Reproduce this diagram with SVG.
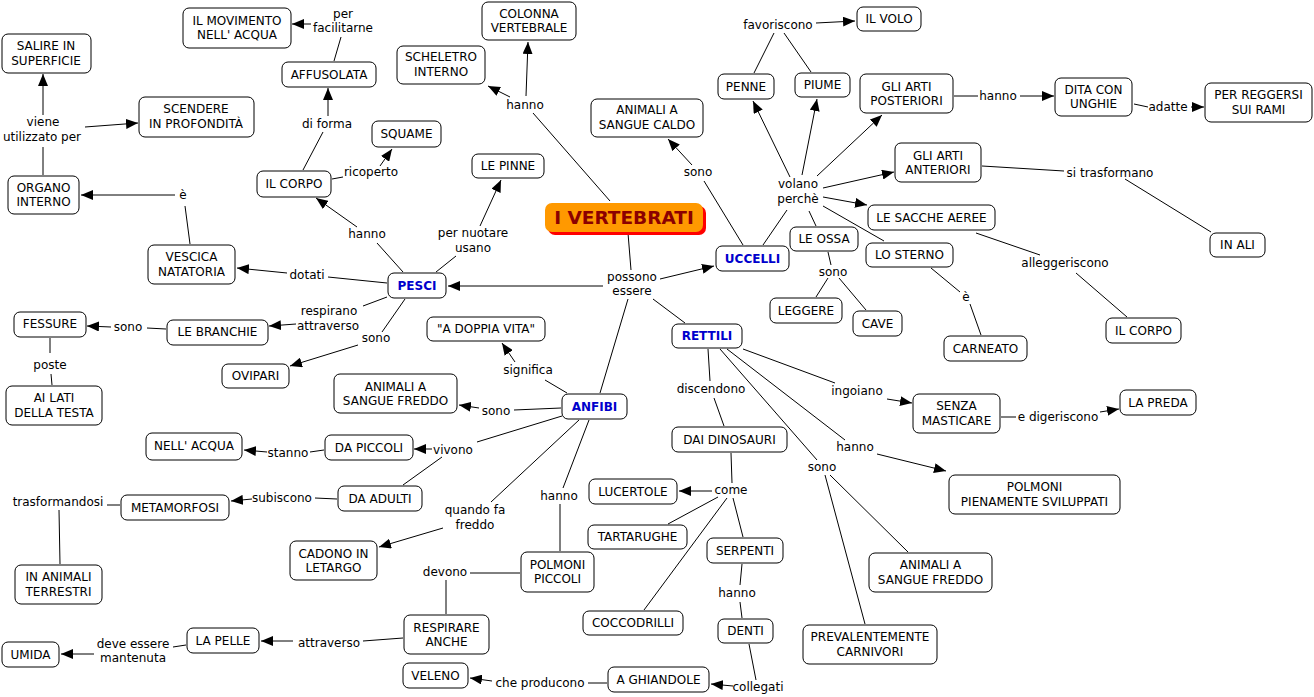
<svg xmlns="http://www.w3.org/2000/svg" width="1314" height="697" viewBox="0 0 1314 697">
<defs>
<marker id="ah" viewBox="0 0 12 10" refX="12" refY="5" markerWidth="12" markerHeight="10" markerUnits="userSpaceOnUse" orient="auto">
<path d="M0,0 L12,5 L0,10 z" fill="#000"/>
</marker>
<style>
text{font-family:"DejaVu Sans",Verdana,sans-serif;font-size:12px;text-anchor:middle;fill:#000}
.n rect{fill:#fff;stroke:#000;stroke-width:1}
.b text{font-weight:bold;fill:#0000cc}
#conn line{stroke:#000;stroke-width:1}
#conn line.a{marker-end:url(#ah)}
</style>
</defs>
<rect width="1314" height="697" fill="#fff"/>
<g id="conn">
<line class="a" x1="311" y1="24" x2="292" y2="24"/>
<line x1="334" y1="61" x2="341" y2="37"/>
<line class="a" x1="328" y1="116" x2="328" y2="88"/>
<line x1="303" y1="170" x2="323" y2="132"/>
<line x1="332" y1="179" x2="343" y2="177"/>
<line class="a" x1="380" y1="166" x2="392" y2="149"/>
<line x1="403" y1="272" x2="377" y2="243"/>
<line class="a" x1="357" y1="227" x2="316" y2="198"/>
<line x1="436" y1="272" x2="456" y2="256"/>
<line class="a" x1="480" y1="226" x2="501" y2="180"/>
<line x1="610" y1="201" x2="533" y2="113"/>
<line class="a" x1="510" y1="97" x2="488" y2="86"/>
<line class="a" x1="526" y1="96" x2="528" y2="42"/>
<line x1="628" y1="233" x2="631" y2="270"/>
<line class="a" x1="603" y1="286" x2="448" y2="286"/>
<line class="a" x1="660" y1="279" x2="714" y2="266"/>
<line x1="653" y1="299" x2="685" y2="323"/>
<line x1="628" y1="299" x2="600" y2="393"/>
<line x1="743" y1="245" x2="704" y2="181"/>
<line class="a" x1="692" y1="165" x2="668" y2="139"/>
<line x1="387" y1="283" x2="328" y2="277"/>
<line class="a" x1="287" y1="273" x2="237" y2="268"/>
<line x1="190" y1="244" x2="185" y2="206"/>
<line class="a" x1="175" y1="195" x2="81" y2="195"/>
<line x1="43" y1="175" x2="43" y2="147"/>
<line class="a" x1="43" y1="115" x2="43" y2="74"/>
<line class="a" x1="85" y1="127" x2="138" y2="123"/>
<line x1="387" y1="297" x2="363" y2="306"/>
<line class="a" x1="296" y1="324" x2="269" y2="326"/>
<line x1="166" y1="329" x2="147" y2="328"/>
<line class="a" x1="111" y1="327" x2="87" y2="326"/>
<line x1="50" y1="338" x2="50" y2="353"/>
<line x1="51" y1="374" x2="52" y2="385"/>
<line x1="405" y1="299" x2="382" y2="332"/>
<line class="a" x1="358" y1="345" x2="290" y2="366"/>
<line x1="567" y1="393" x2="545" y2="380"/>
<line class="a" x1="515" y1="362" x2="502" y2="343"/>
<line x1="561" y1="408" x2="514" y2="410"/>
<line class="a" x1="479" y1="408" x2="459" y2="405"/>
<line x1="562" y1="416" x2="477" y2="442"/>
<line class="a" x1="432" y1="449" x2="414" y2="449"/>
<line x1="442" y1="457" x2="403" y2="485"/>
<line x1="324" y1="450" x2="310" y2="452"/>
<line class="a" x1="267" y1="452" x2="244" y2="450"/>
<line x1="337" y1="499" x2="315" y2="498"/>
<line class="a" x1="252" y1="499" x2="231" y2="501"/>
<line x1="120" y1="505" x2="107" y2="505"/>
<line x1="59" y1="510" x2="60" y2="564"/>
<line x1="579" y1="420" x2="491" y2="502"/>
<line class="a" x1="443" y1="528" x2="379" y2="547"/>
<line x1="589" y1="420" x2="563" y2="488"/>
<line x1="560" y1="504" x2="560" y2="551"/>
<line x1="520" y1="573" x2="470" y2="573"/>
<line x1="446" y1="580" x2="446" y2="614"/>
<line x1="403" y1="638" x2="363" y2="641"/>
<line class="a" x1="293" y1="641" x2="261" y2="641"/>
<line x1="186" y1="645" x2="173" y2="647"/>
<line class="a" x1="94" y1="654" x2="61" y2="654"/>
<line x1="607" y1="683" x2="588" y2="683"/>
<line class="a" x1="492" y1="681" x2="470" y2="678"/>
<line x1="708" y1="349" x2="710" y2="381"/>
<line x1="714" y1="398" x2="724" y2="426"/>
<line x1="731" y1="453" x2="732" y2="483"/>
<line class="a" x1="712" y1="491" x2="679" y2="491"/>
<line x1="718" y1="497" x2="668" y2="524"/>
<line x1="727" y1="498" x2="644" y2="610"/>
<line x1="733" y1="498" x2="743" y2="537"/>
<line x1="742" y1="564" x2="740" y2="585"/>
<line x1="740" y1="602" x2="742" y2="618"/>
<line x1="749" y1="644" x2="756" y2="680"/>
<line class="a" x1="733" y1="686" x2="711" y2="684"/>
<line x1="743" y1="349" x2="835" y2="383"/>
<line class="a" x1="887" y1="399" x2="912" y2="403"/>
<line x1="1001" y1="417" x2="1016" y2="417"/>
<line class="a" x1="1100" y1="412" x2="1119" y2="409"/>
<line x1="727" y1="349" x2="845" y2="440"/>
<line class="a" x1="877" y1="454" x2="946" y2="471"/>
<line x1="720" y1="349" x2="817" y2="460"/>
<line x1="825" y1="475" x2="865" y2="624"/>
<line x1="830" y1="475" x2="908" y2="552"/>
<line x1="763" y1="245" x2="787" y2="210"/>
<line class="a" x1="790" y1="177" x2="753" y2="101"/>
<line class="a" x1="802" y1="175" x2="817" y2="99"/>
<line class="a" x1="817" y1="176" x2="882" y2="115"/>
<line class="a" x1="823" y1="188" x2="894" y2="172"/>
<line class="a" x1="823" y1="197" x2="867" y2="205"/>
<line x1="823" y1="206" x2="884" y2="241"/>
<line x1="809" y1="211" x2="816" y2="226"/>
<line x1="754" y1="73" x2="774" y2="33"/>
<line x1="811" y1="72" x2="784" y2="33"/>
<line class="a" x1="816" y1="23" x2="855" y2="21"/>
<line x1="954" y1="96" x2="978" y2="96"/>
<line class="a" x1="1020" y1="96" x2="1054" y2="96"/>
<line x1="1134" y1="104" x2="1148" y2="107"/>
<line class="a" x1="1191" y1="107" x2="1204" y2="107"/>
<line x1="982" y1="166" x2="1064" y2="171"/>
<line x1="1125" y1="179" x2="1211" y2="232"/>
<line x1="976" y1="233" x2="1040" y2="255"/>
<line x1="1076" y1="273" x2="1127" y2="317"/>
<line x1="931" y1="268" x2="960" y2="292"/>
<line x1="970" y1="304" x2="981" y2="335"/>
<line x1="828" y1="252" x2="831" y2="265"/>
<line x1="828" y1="278" x2="816" y2="297"/>
<line x1="839" y1="278" x2="866" y2="310"/>
</g>
<g id="labels">
<text x="343" y="18">per</text><text x="343" y="32">facilitarne</text>
<text x="327" y="128">di forma</text>
<text x="43" y="126">viene</text><text x="42" y="141">utilizzato per</text>
<text x="183" y="199">è</text>
<text x="371" y="176">ricoperto</text>
<text x="525" y="109">hanno</text>
<text x="367" y="238">hanno</text>
<text x="473" y="237">per nuotare</text><text x="473" y="252">usano</text>
<text x="698" y="176">sono</text>
<text x="307" y="279">dotati</text>
<text x="329" y="315">respirano</text><text x="328" y="330">attraverso</text>
<text x="128" y="331">sono</text>
<text x="50" y="369">poste</text>
<text x="376" y="342">sono</text>
<text x="632" y="281">possono</text><text x="632" y="295">essere</text>
<text x="528" y="374">significa</text>
<text x="496" y="415">sono</text>
<text x="453" y="454">vivono</text>
<text x="288" y="457">stanno</text>
<text x="282" y="502">subiscono</text>
<text x="58" y="506">trasformandosi</text>
<text x="475" y="514">quando fa</text><text x="475" y="529">freddo</text>
<text x="559" y="500">hanno</text>
<text x="445" y="576">devono</text>
<text x="329" y="647">attraverso</text>
<text x="133" y="648">deve essere</text><text x="133" y="662">mantenuta</text>
<text x="540" y="687">che producono</text>
<text x="711" y="393">discendono</text>
<text x="731" y="494">come</text>
<text x="737" y="597">hanno</text>
<text x="758" y="691">collegati</text>
<text x="857" y="395">ingoiano</text>
<text x="855" y="451">hanno</text>
<text x="822" y="471">sono</text>
<text x="1058" y="421">e digeriscono</text>
<text x="778" y="29">favoriscono</text>
<text x="798" y="188">volano</text><text x="798" y="203">perchè</text>
<text x="998" y="100">hanno</text>
<text x="1168" y="111">adatte</text>
<text x="1110" y="177">si trasformano</text>
<text x="833" y="276">sono</text>
<text x="966" y="301">è</text>
<text x="1065" y="267">alleggeriscono</text>
</g>
<g id="n-vertebrati">
<rect x="548" y="206" width="158" height="29" rx="7" fill="#ff0000"/>
<rect x="545" y="203" width="158" height="29" rx="7" fill="#ff9900"/>
<text x="624" y="224" style="font-size:18.5px;font-weight:bold;fill:#8b0000">I VERTEBRATI</text>
</g>
<g id="n-movimento" class="n"><rect x="183" y="8" width="108" height="40" rx="6"/><text x="237" y="25">IL MOVIMENTO</text><text x="237" y="39">NELL' ACQUA</text></g>
<g id="n-salire" class="n"><rect x="2" y="34" width="89" height="39" rx="6"/><text x="46" y="50">SALIRE IN</text><text x="46" y="65">SUPERFICIE</text></g>
<g id="n-scendere" class="n"><rect x="139" y="97" width="115" height="40" rx="6"/><text x="196" y="113">SCENDERE</text><text x="196" y="128">IN PROFONDITÀ</text></g>
<g id="n-organo" class="n"><rect x="8" y="176" width="71" height="38" rx="6"/><text x="43.5" y="192">ORGANO</text><text x="43.5" y="206">INTERNO</text></g>
<g id="n-affusolata" class="n"><rect x="282" y="62" width="94" height="25" rx="6"/><text x="329" y="79">AFFUSOLATA</text></g>
<g id="n-corpo-p" class="n"><rect x="257" y="171" width="74" height="26" rx="6"/><text x="294" y="188">IL CORPO</text></g>
<g id="n-squame" class="n"><rect x="372" y="121" width="69" height="26" rx="6"/><text x="406.5" y="138">SQUAME</text></g>
<g id="n-scheletro" class="n"><rect x="397" y="46" width="88" height="38" rx="6"/><text x="441" y="61">SCHELETRO</text><text x="441" y="76">INTERNO</text></g>
<g id="n-colonna" class="n"><rect x="482" y="2" width="94" height="38" rx="6"/><text x="529" y="18">COLONNA</text><text x="529" y="32">VERTEBRALE</text></g>
<g id="n-pinne" class="n"><rect x="472" y="154" width="72" height="24" rx="6"/><text x="508" y="170">LE PINNE</text></g>
<g id="n-caldo" class="n"><rect x="591" y="99" width="112" height="38" rx="6"/><text x="647" y="114">ANIMALI A</text><text x="647" y="129">SANGUE CALDO</text></g>
<g id="n-vescica" class="n"><rect x="148" y="245" width="87" height="39" rx="6"/><text x="191.5" y="261">VESCICA</text><text x="191.5" y="276">NATATORIA</text></g>
<g id="n-pesci" class="n b"><rect x="388" y="273" width="58" height="25" rx="6"/><text x="417" y="290">PESCI</text></g>
<g id="n-fessure" class="n"><rect x="14" y="312" width="72" height="25" rx="6"/><text x="50" y="328">FESSURE</text></g>
<g id="n-branchie" class="n"><rect x="167" y="320" width="101" height="25" rx="6"/><text x="217.5" y="336">LE BRANCHIE</text></g>
<g id="n-ovipari" class="n"><rect x="222" y="364" width="67" height="24" rx="6"/><text x="255.5" y="380">OVIPARI</text></g>
<g id="n-lati" class="n"><rect x="6" y="386" width="96" height="39" rx="6"/><text x="54" y="402">AI LATI</text><text x="54" y="417">DELLA TESTA</text></g>
<g id="n-doppia" class="n"><rect x="427" y="317" width="118" height="24" rx="6"/><text x="486" y="333">"A DOPPIA VITA"</text></g>
<g id="n-freddo-a" class="n"><rect x="334" y="374" width="123" height="39" rx="6"/><text x="395.5" y="391">ANIMALI A</text><text x="395.5" y="405">SANGUE FREDDO</text></g>
<g id="n-anfibi" class="n b"><rect x="562" y="394" width="65" height="25" rx="6"/><text x="594.5" y="411">ANFIBI</text></g>
<g id="n-uccelli" class="n b"><rect x="716" y="246" width="73" height="25" rx="6"/><text x="752.5" y="263">UCCELLI</text></g>
<g id="n-rettili" class="n b"><rect x="672" y="324" width="70" height="24" rx="6"/><text x="707" y="340">RETTILI</text></g>
<g id="n-volo" class="n"><rect x="857" y="7" width="64" height="24" rx="6"/><text x="889" y="23">IL VOLO</text></g>
<g id="n-penne" class="n"><rect x="718" y="74" width="56" height="25" rx="6"/><text x="746" y="91">PENNE</text></g>
<g id="n-piume" class="n"><rect x="795" y="73" width="55" height="24" rx="6"/><text x="822.5" y="89">PIUME</text></g>
<g id="n-posteriori" class="n"><rect x="860" y="74" width="93" height="39" rx="6"/><text x="906.5" y="91">GLI ARTI</text><text x="906.5" y="105">POSTERIORI</text></g>
<g id="n-dita" class="n"><rect x="1055" y="78" width="77" height="38" rx="6"/><text x="1093.5" y="94">DITA CON</text><text x="1093.5" y="108">UNGHIE</text></g>
<g id="n-reggersi" class="n"><rect x="1205" y="83" width="107" height="39" rx="6"/><text x="1258.5" y="99">PER REGGERSI</text><text x="1258.5" y="114">SUI RAMI</text></g>
<g id="n-anteriori" class="n"><rect x="895" y="143" width="86" height="39" rx="6"/><text x="938" y="160">GLI ARTI</text><text x="938" y="174">ANTERIORI</text></g>
<g id="n-sacche" class="n"><rect x="868" y="205" width="127" height="25" rx="6"/><text x="931.5" y="222">LE SACCHE AEREE</text></g>
<g id="n-ossa" class="n"><rect x="790" y="227" width="68" height="24" rx="6"/><text x="824" y="243">LE OSSA</text></g>
<g id="n-sterno" class="n"><rect x="866" y="243" width="87" height="24" rx="6"/><text x="909.5" y="259">LO STERNO</text></g>
<g id="n-leggere" class="n"><rect x="770" y="298" width="72" height="25" rx="6"/><text x="806" y="315">LEGGERE</text></g>
<g id="n-cave" class="n"><rect x="853" y="311" width="49" height="25" rx="6"/><text x="877.5" y="328">CAVE</text></g>
<g id="n-carneato" class="n"><rect x="944" y="336" width="83" height="25" rx="6"/><text x="985.5" y="353">CARNEATO</text></g>
<g id="n-corpo-u" class="n"><rect x="1106" y="318" width="75" height="25" rx="6"/><text x="1143.5" y="335">IL CORPO</text></g>
<g id="n-ali" class="n"><rect x="1210" y="233" width="55" height="24" rx="6"/><text x="1237.5" y="249">IN ALI</text></g>
<g id="n-acqua" class="n"><rect x="146" y="433" width="96" height="27" rx="6"/><text x="194" y="450">NELL' ACQUA</text></g>
<g id="n-piccoli" class="n"><rect x="325" y="435" width="88" height="25" rx="6"/><text x="369" y="452">DA PICCOLI</text></g>
<g id="n-adulti" class="n"><rect x="338" y="486" width="84" height="25" rx="6"/><text x="380" y="503">DA ADULTI</text></g>
<g id="n-metamorfosi" class="n"><rect x="121" y="495" width="108" height="25" rx="6"/><text x="175" y="512">METAMORFOSI</text></g>
<g id="n-terrestri" class="n"><rect x="15" y="565" width="87" height="39" rx="6"/><text x="58.5" y="581">IN ANIMALI</text><text x="58.5" y="596">TERRESTRI</text></g>
<g id="n-letargo" class="n"><rect x="290" y="541" width="87" height="39" rx="6"/><text x="333.5" y="558">CADONO IN</text><text x="333.5" y="572">LETARGO</text></g>
<g id="n-polmoni-p" class="n"><rect x="521" y="552" width="73" height="40" rx="6"/><text x="557.5" y="569">POLMONI</text><text x="557.5" y="583">PICCOLI</text></g>
<g id="n-respirare" class="n"><rect x="404" y="615" width="85" height="39" rx="6"/><text x="446.5" y="632">RESPIRARE</text><text x="446.5" y="646">ANCHE</text></g>
<g id="n-pelle" class="n"><rect x="187" y="628" width="72" height="25" rx="6"/><text x="223" y="645">LA PELLE</text></g>
<g id="n-umida" class="n"><rect x="2" y="642" width="57" height="25" rx="6"/><text x="30.5" y="659">UMIDA</text></g>
<g id="n-veleno" class="n"><rect x="403" y="663" width="65" height="25" rx="6"/><text x="435.5" y="680">VELENO</text></g>
<g id="n-ghiandole" class="n"><rect x="608" y="667" width="101" height="25" rx="6"/><text x="658.5" y="684">A GHIANDOLE</text></g>
<g id="n-dinosauri" class="n"><rect x="672" y="427" width="115" height="25" rx="6"/><text x="729.5" y="444">DAI DINOSAURI</text></g>
<g id="n-lucertole" class="n"><rect x="589" y="479" width="88" height="25" rx="6"/><text x="633" y="496">LUCERTOLE</text></g>
<g id="n-tartarughe" class="n"><rect x="588" y="525" width="99" height="24" rx="6"/><text x="637.5" y="541">TARTARUGHE</text></g>
<g id="n-serpenti" class="n"><rect x="707" y="538" width="76" height="25" rx="6"/><text x="745" y="555">SERPENTI</text></g>
<g id="n-coccodrilli" class="n"><rect x="583" y="611" width="100" height="24" rx="6"/><text x="633" y="627">COCCODRILLI</text></g>
<g id="n-denti" class="n"><rect x="718" y="619" width="55" height="24" rx="6"/><text x="745.5" y="635">DENTI</text></g>
<g id="n-carnivori" class="n"><rect x="803" y="625" width="134" height="39" rx="6"/><text x="870" y="641">PREVALENTEMENTE</text><text x="870" y="656">CARNIVORI</text></g>
<g id="n-freddo-r" class="n"><rect x="869" y="553" width="123" height="39" rx="6"/><text x="930.5" y="569">ANIMALI A</text><text x="930.5" y="584">SANGUE FREDDO</text></g>
<g id="n-masticare" class="n"><rect x="913" y="394" width="87" height="39" rx="6"/><text x="956.5" y="410">SENZA</text><text x="956.5" y="425">MASTICARE</text></g>
<g id="n-preda" class="n"><rect x="1120" y="390" width="76" height="25" rx="6"/><text x="1158" y="407">LA PREDA</text></g>
<g id="n-polmoni-s" class="n"><rect x="949" y="475" width="171" height="39" rx="6"/><text x="1034.5" y="491">POLMONI</text><text x="1034.5" y="506">PIENAMENTE SVILUPPATI</text></g>
</svg>
